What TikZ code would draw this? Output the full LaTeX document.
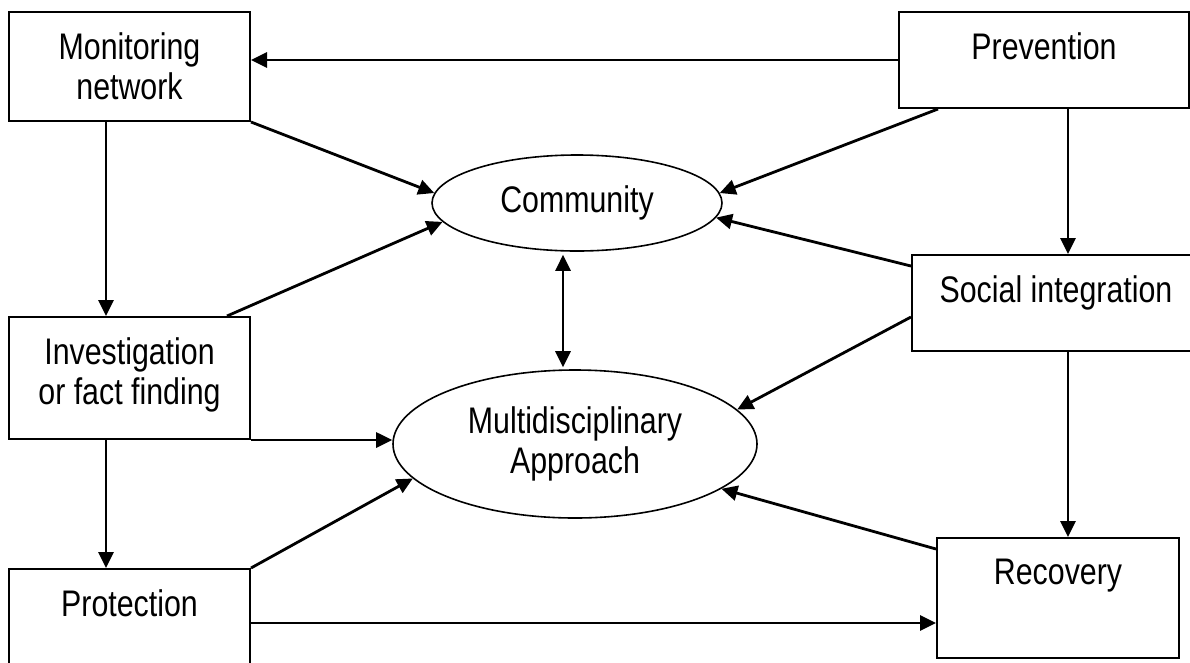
\documentclass[tikz,border=0pt]{standalone}
\usepackage{fontspec}
\setmainfont{Liberation Sans}[FakeStretch=0.82]
\usetikzlibrary{positioning,shapes.geometric,arrows.meta}
\tikzstyle{arrow} = [line width=2.8pt,-{Triangle[length=16pt,width=15pt]}]
\tikzstyle{twoway} = [arrow,{Triangle[length=16pt,width=15pt]}-{Triangle[length=16pt,width=15pt]}]
\tikzstyle{box} = [draw, line width=2pt, rectangle, inner sep=0pt]
\tikzstyle{oval} = [draw, line width=1.6pt, ellipse, inner sep=0pt, align=center]
\tikzstyle{lbl} = [anchor=north, align=center, yshift=-18pt]

\begin{document}
\begin{tikzpicture}[x=1pt, y=-1pt, font=\fontsize{37}{40}\selectfont]
    \useasboundingbox (0,0) rectangle (1190,662);
    \clip (0,0) rectangle (1190,662);

    % left column
    \node (mon) [box, minimum width=241pt, minimum height=109pt, label={[lbl]north:Monitoring\\network}] at (129.5,66.5) {};
    \node (inv) [box, minimum width=241pt, minimum height=122pt, label={[lbl]north:Investigation\\or fact finding}] at (129.5,378) {};
    \node (prot) [box, minimum width=241pt, minimum height=111pt, label={[lbl]north:Protection}] at (129.5,624.5) {};

    % right column
    \node (prev) [box, minimum width=290pt, minimum height=96pt, label={[lbl]north:Prevention}] at (1044,60) {};
    \node (soc) [box, minimum width=288pt, minimum height=96pt, label={[lbl]north:Social integration}] at (1056,303) {};
    \node (rec) [box, minimum width=242pt, minimum height=120pt, label={[lbl]north:Recovery}] at (1058,598) {};

    % centre
    \node (com) [oval, minimum width=290pt, minimum height=96pt] at (577,203) {Community};
    \node (mul) [oval, minimum width=364pt, minimum height=148pt] at (575,444) {Multidisciplinary\\Approach};

    \draw [arrow] (prev.west) -- (mon.east |- prev.west);
    \draw [arrow] (mon.south east) -- (com.176);
    \draw [arrow] ([xshift=-23.5pt]mon.south) -- ([xshift=-23.5pt]mon.south |- inv.north);
    \draw [arrow] ([xshift=-24pt]inv.north east) -- (com.188);
    \draw [arrow] (inv.south east) -- (mul.west |- inv.south east);
    \draw [arrow] ([xshift=-23.5pt]inv.south) -- ([xshift=-23.5pt]inv.south |- prot.north);
    \draw [arrow] (prot.north east) -- (mul.192);
    \draw [arrow] ([yshift=1.5pt]prot.east) -- ([yshift=1.5pt]rec.west |- prot.east);

    \draw [arrow] ([xshift=40pt]prev.south west) -- (com.4);
    \draw [arrow] ([xshift=24pt]prev.south) -- ([xshift=24pt]prev.south |- soc.north);
    \draw [arrow] ([yshift=-12pt]soc.north west) -- (com.354);
    \draw [arrow] ([yshift=-14pt]soc.west) -- (mul.12);
    \draw [arrow] ([xshift=12pt]soc.south) -- ([xshift=12pt]soc.south |- rec.north);
    \draw [arrow] ([yshift=-12pt]rec.north west) -- (mul.343);

    \draw [twoway, shorten <=3pt, shorten >=2pt] ([xshift=-14pt]com.south) -- ([xshift=-14pt]com.south |- mul.north);
\end{tikzpicture}
\end{document}
